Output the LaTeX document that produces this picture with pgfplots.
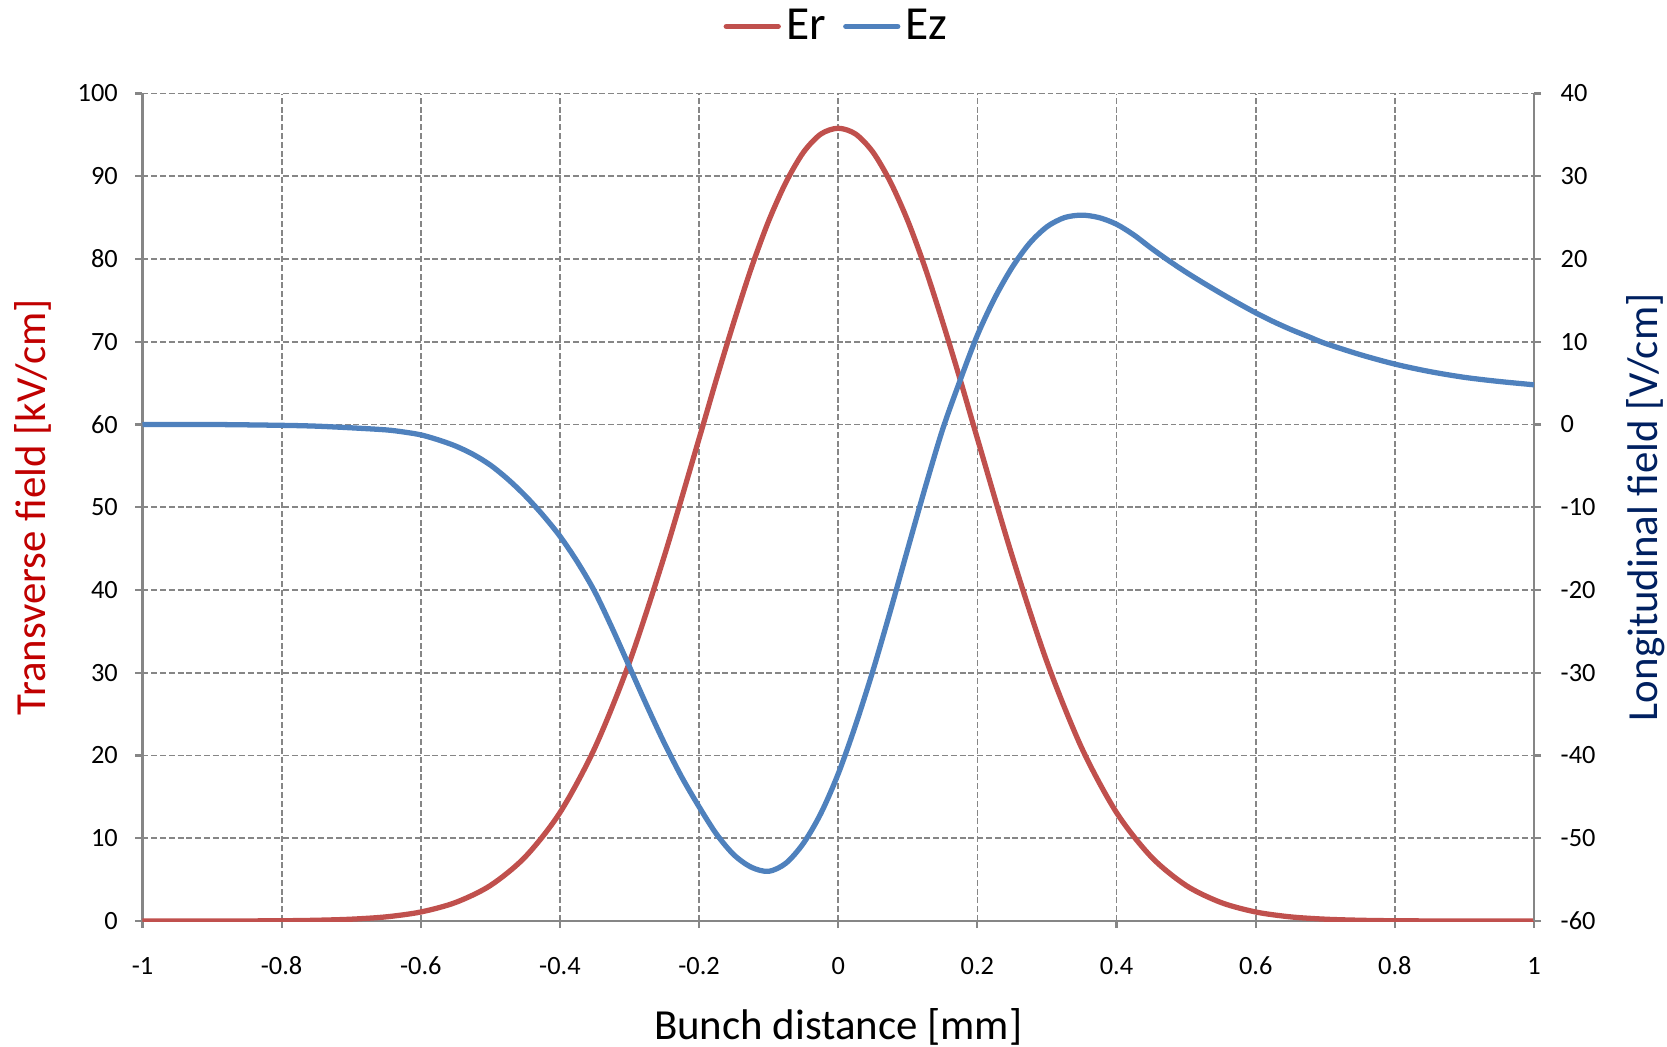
\documentclass[border=0pt]{standalone}
\usepackage{pgfplots}
\pgfplotsset{compat=1.18}
\usepackage{fontspec}
\setmainfont{Carlito}

\definecolor{erred}{HTML}{C0504D}
\definecolor{ezblue}{HTML}{4F81BD}
\definecolor{gridgray}{HTML}{868686}
\definecolor{lblred}{HTML}{C00000}
\definecolor{lblnavy}{HTML}{002060}

\newcommand{\tickfont}{\fontsize{7.5}{9}\selectfont}
\newcommand{\labfont}{\fontsize{12.2}{14}\selectfont}

% Er: transverse field [kV/cm], left axis
\pgfplotstableread{
x      Er
-1.00  0.00
-0.90  0.00
-0.85  0.01
-0.80  0.03
-0.75  0.09
-0.70  0.22
-0.65  0.50
-0.60  1.09
-0.55  2.24
-0.50  4.29
-0.45  7.74
-0.40  13.1
-0.35  20.9
-0.30  31.3
-0.25  44.1
-0.20  58.3
-0.175 65.5
-0.15  72.4
-0.125 78.9
-0.10  84.6
-0.075 89.3
-0.05  92.9
-0.025 95.1
 0.00  95.8
 0.025 95.1
 0.05  92.9
 0.075 89.3
 0.10  84.6
 0.125 78.9
 0.15  72.4
 0.175 65.5
 0.20  58.3
 0.25  44.1
 0.30  31.3
 0.35  20.9
 0.40  13.1
 0.45  7.74
 0.50  4.29
 0.55  2.24
 0.60  1.09
 0.65  0.50
 0.70  0.22
 0.75  0.09
 0.80  0.03
 0.85  0.01
 0.90  0.00
 1.00  0.00
}\ertable

% Ez: longitudinal field [V/cm], right axis
\pgfplotstableread{
x       Ez
-1.00   0.0
-0.90   0.0
-0.80  -0.1
-0.75  -0.2
-0.70  -0.4
-0.65  -0.65
-0.625 -0.9
-0.60  -1.25
-0.575 -1.85
-0.55  -2.6
-0.525 -3.6
-0.50  -4.9
-0.475 -6.6
-0.45  -8.6
-0.425 -10.9
-0.40  -13.5
-0.375 -16.6
-0.35  -20.2
-0.325 -24.6
-0.30  -29.3
-0.275 -34.0
-0.25  -38.5
-0.225 -42.6
-0.20  -46.2
-0.175 -49.5
-0.15  -52.0
-0.125 -53.5
-0.10  -54.0
-0.075 -53.0
-0.05  -50.6
-0.025 -47.0
 0.00  -42.2
 0.025 -36.3
 0.05  -29.7
 0.075 -22.5
 0.10  -15.0
 0.125 -7.6
 0.15  -0.6
 0.175  5.3
 0.20   10.8
 0.225  15.3
 0.25   19.0
 0.275  21.9
 0.30   23.9
 0.325  25.0
 0.35   25.3
 0.375  25.0
 0.40   24.2
 0.425  22.9
 0.45   21.3
 0.475  19.8
 0.50   18.4
 0.525  17.1
 0.55   15.85
 0.575  14.65
 0.60   13.5
 0.625  12.45
 0.65   11.5
 0.675  10.65
 0.70   9.8
 0.75   8.45
 0.80   7.3
 0.85   6.4
 0.90   5.7
 0.95   5.2
 1.00   4.8
}\eztable

\pgfplotsset{
  base/.style={
    width=13.915cm, height=8.275cm, scale only axis,
    xmin=-1, xmax=1,
    axis line style={draw=gridgray, line width=0.6pt, -},
    tick style={draw=gridgray, line width=0.6pt},
    tick align=outside, major tick length=0.07cm,
    xtick={-1,-0.8,-0.6,-0.4,-0.2,0,0.2,0.4,0.6,0.8,1},
  },
}

\begin{document}
\begin{tikzpicture}
\useasboundingbox (-1.425,-1.26) rectangle (15.245,9.21);

\begin{axis}[base,
  ymin=0, ymax=100,
  ytick={0,10,...,100},
  yticklabels={0,10,20,30,40,50,60,70,80,90,100},
  xticklabels={-1,-0.8,-0.6,-0.4,-0.2,0,0.2,0.4,0.6,0.8,1},
  axis x line*=bottom, axis y line*=left,
  grid=major,
  major grid style={draw=gridgray, line width=0.5pt, dash pattern=on 1.7pt off 0.8pt},
  xticklabel style={font=\tickfont, anchor=center, yshift=-0.38cm},
  yticklabel style={font=\tickfont, anchor=east, inner sep=0pt, xshift=-0.17cm},
  xlabel={Bunch distance [mm]},
  ylabel={Transverse field [kV/cm]},
  xlabel style={font=\labfont, at={(axis description cs:0.5,0)}, anchor=center, yshift=-1.06cm},
  ylabel style={font=\labfont, text=lblred, at={(axis description cs:0,0.5)}, anchor=center, yshift=1.1cm},
  legend columns=2,
  legend style={draw=none, fill=none, font=\fontsize{13.5}{16}\selectfont,
    at={(axis description cs:0.5,1)}, anchor=center, yshift=0.67cm,
    inner sep=0pt, nodes={inner sep=1.5pt},
    /tikz/every even column/.append style={column sep=0.12cm}},
  legend image code/.code={\draw[#1, line cap=round] (0cm,0cm) -- (0.52cm,0cm);},
]
\addplot[erred, line width=1.5pt, smooth] table[x=x, y=Er] {\ertable};
\addlegendentry{Er}
\addlegendimage{ezblue, line width=1.5pt}
\addlegendentry{Ez}
\end{axis}

\begin{axis}[base,
  ymin=-60, ymax=40,
  ytick={-60,-50,...,40},
  yticklabels={-60,-50,-40,-30,-20,-10,0,10,20,30,40},
  axis y line*=right, axis x line=none,
  yticklabel style={font=\tickfont, anchor=west, inner sep=0pt, xshift=0.19cm},
  ylabel={Longitudinal field [V/cm]},
  ylabel style={font=\labfont, text=lblnavy, at={(axis description cs:1,0.5)}, anchor=center, yshift=-1.12cm},
]
\addplot[ezblue, line width=1.5pt, smooth] table[x=x, y=Ez] {\eztable};
\end{axis}
\end{tikzpicture}
\end{document}
